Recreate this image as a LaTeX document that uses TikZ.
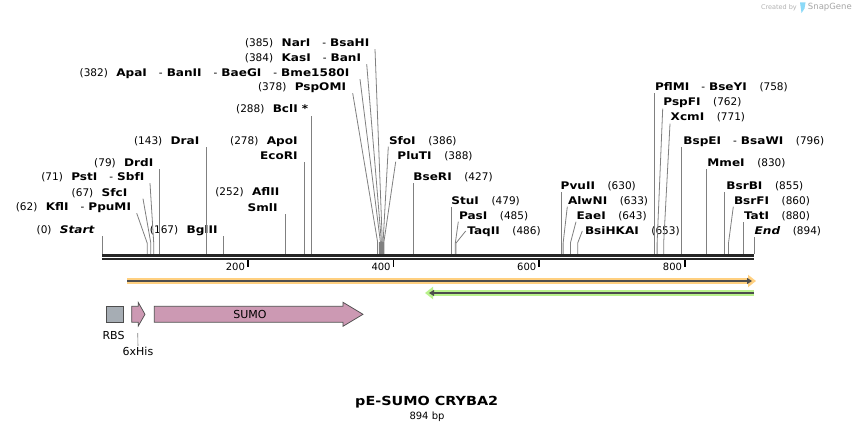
\documentclass[tikz,border=0pt]{standalone}
\usepackage{fontspec}
\setmainfont{DejaVu Sans}
\newfontfamily\enzfont{DejaVu Sans Bold}[FakeStretch=1.15]
\newfontfamily\enzitfont{DejaVu Sans Bold Oblique}[FakeStretch=1.15]
\usetikzlibrary{arrows.meta}
\definecolor{cutline}{RGB}{128,128,128}
\definecolor{orangehalo}{RGB}{255,208,128}
\definecolor{greenhalo}{RGB}{185,242,140}
\definecolor{featcore}{RGB}{77,77,77}
\definecolor{sumofill}{RGB}{204,153,179}
\definecolor{rbsfill}{RGB}{166,173,180}
\newcommand{\enz}[1]{{\enzfont #1}}
\newcommand{\enzsep}{\hspace{12pt}-\hspace{4pt}}

\begin{document}
\begin{tikzpicture}[x=1pt, y=-1pt,
    lab/.style={font=\fontsize{10.5}{12}\selectfont, inner sep=0.5pt, text height=8pt, text depth=2pt},
    leftlab/.style={lab, anchor=east},
    rightlab/.style={lab, anchor=west},
    cut/.style={draw=cutline, line width=0.8pt},
    ticklab/.style={font=\fontsize{10}{12}\selectfont, anchor=east, inner sep=2pt},
    feat/.style={draw=featcore, line width=0.7pt},
    featlab/.style={font=\fontsize{11}{13}\selectfont}]

  \fill[white] (0,0) rectangle (856,433);
  \useasboundingbox (0,0) rectangle (856,433);

  \newcommand\bpx{0.7285}
  \newcommand\gap{\hspace{0.8em}}
  \newcommand\rgap{\hspace{1.2em}}

  % sites on the sequence
  \coordinate (s0) at (102,254);  \coordinate (s62) at ({102+62*\bpx},254);
  \coordinate (s67) at ({102+67*\bpx},254);  \coordinate (s71) at ({102+71*\bpx},254);
  \coordinate (s79) at ({102+79*\bpx},254);  \coordinate (s143) at ({102+143*\bpx},254);
  \coordinate (s167) at ({102+167*\bpx},254);  \coordinate (s252) at ({102+252*\bpx},254);
  \coordinate (s278) at ({102+278*\bpx},254);  \coordinate (s288) at ({102+288*\bpx},254);
  \coordinate (s378) at (377.6,254);  \coordinate (s382) at (380.4,254);
  \coordinate (s384) at (381.4,254);  \coordinate (s385) at (382.3,254);
  \coordinate (s386) at (383.1,254);  \coordinate (s388) at (383.9,254);
  \coordinate (s427) at ({102+427*\bpx},254);  \coordinate (s479) at ({102+479*\bpx},254);
  \coordinate (s485) at ({102+485*\bpx},254);  \coordinate (s486) at ({102+486*\bpx},254);
  \coordinate (s630) at ({102+630*\bpx},254);  \coordinate (s633) at ({102+633*\bpx},254);
  \coordinate (s643) at ({102+643*\bpx},254);  \coordinate (s653) at ({102+653*\bpx},254);
  \coordinate (s758) at ({102+758*\bpx},254);  \coordinate (s762) at ({102+762*\bpx},254);
  \coordinate (s771) at ({102+771*\bpx},254);  \coordinate (s796) at ({102+796*\bpx},254);
  \coordinate (s830) at ({102+830*\bpx},254);  \coordinate (s855) at ({102+855*\bpx},254);
  \coordinate (s860) at ({102+860*\bpx},254);  \coordinate (s880) at ({102+880*\bpx},254);
  \coordinate (s894) at (754,254);

  % labels left of their cut
  \node[leftlab] (nar) at (370,43.5) {(385)\gap\enz{NarI}\enzsep\enz{BsaHI}};
  \node[leftlab] (kas) at (361.7,58.5) {(384)\gap\enz{KasI}\enzsep\enz{BanI}};
  \node[leftlab] (apa) at (350,73.5) {(382)\gap\enz{ApaI}\enzsep\enz{BanII}\enzsep\enz{BaeGI}\enzsep\enz{Bme1580I}};
  \node[leftlab] (psp) at (346.7,87.5) {(378)\gap\enz{PspOMI}};
  \node[leftlab] (bcl) at (309,110) {(288)\gap\enz{BclI *}};
  \node[leftlab] (dra) at (200,141) {(143)\gap\enz{DraI}};
  \node[leftlab] (apo) at (298.3,141) {(278)\gap\enz{ApoI}};
  \node[leftlab] (eco) at (298.3,156) {\enz{EcoRI}};
  \node[leftlab] (drd) at (154,163) {(79)\gap\enz{DrdI}};
  \node[leftlab] (pst) at (145,177.5) {(71)\gap\enz{PstI}\enzsep\enz{SbfI}};
  \node[leftlab] (afl) at (280,192.5) {(252)\gap\enz{AflII}};
  \node[leftlab] (sml) at (278.3,208) {\enz{SmlI}};
  \node[leftlab] (sfc) at (128,193) {(67)\gap\enz{SfcI}};
  \node[leftlab] (kfl) at (131.7,207.5) {(62)\gap\enz{KflI}\enzsep\enz{PpuMI}};
  \node[leftlab] (start) at (95,230.3) {(0)\gap{\enzitfont Start}};
  \node[leftlab] (bgl) at (218.3,230.3) {(167)\gap\enz{BglII}};

  % labels right of their cut
  \node[rightlab] (sfo) at (388.3,141) {\enz{SfoI}\rgap(386)};
  \node[rightlab] (plu) at (396.7,156) {\enz{PluTI}\rgap(388)};
  \node[rightlab] (bse) at (412.7,177.5) {\enz{BseRI}\rgap(427)};
  \node[rightlab] (stu) at (450.7,201) {\enz{StuI}\rgap(479)};
  \node[rightlab] (pas) at (458.3,216) {\enz{PasI}\rgap(485)};
  \node[rightlab] (taq) at (466.7,231) {\enz{TaqII}\rgap(486)};
  \node[rightlab] (pvu) at (560,186) {\enz{PvuII}\rgap(630)};
  \node[rightlab] (alw) at (567.3,201) {\enz{AlwNI}\rgap(633)};
  \node[rightlab] (eae) at (576,216) {\enz{EaeI}\rgap(643)};
  \node[rightlab] (bsi) at (584.3,231) {\enz{BsiHKAI}\rgap(653)};
  \node[rightlab] (pfl) at (654.3,87.5) {\enz{PflMI}\enzsep\enz{BseYI}\rgap(758)};
  \node[rightlab] (pspf) at (662.7,103) {\enz{PspFI}\rgap(762)};
  \node[rightlab] (xcm) at (670,118) {\enz{XcmI}\rgap(771)};
  \node[rightlab] (bspe) at (682.7,141) {\enz{BspEI}\enzsep\enz{BsaWI}\rgap(796)};
  \node[rightlab] (mme) at (706.7,163) {\enz{MmeI}\rgap(830)};
  \node[rightlab] (bsrb) at (725.7,186.5) {\enz{BsrBI}\rgap(855)};
  \node[rightlab] (bsrf) at (733.3,201) {\enz{BsrFI}\rgap(860)};
  \node[rightlab] (tat) at (743.3,216) {\enz{TatI}\rgap(880)};
  \node[rightlab] (fin) at (754,231) {{\enzitfont End}\rgap(894)};

  % straight cuts
  \draw[cut] (s0) -- (s0 |- start.south);
  \draw[cut] (s79) -- (s79 |- drd.south);
  \draw[cut] (s143) -- (s143 |- dra.south);
  \draw[cut] (s167) -- (s167 |- bgl.south);
  \draw[cut] (s252) -- (s252 |- sml.south);
  \draw[cut] (s278) -- (s278 |- eco.south);
  \draw[cut] (s288) -- (s288 |- bcl.south);
  \draw[cut] (s427) -- (s427 |- bse.south);
  \draw[cut] (s479) -- (s479 |- stu.south);
  \draw[cut] (s630) -- (s630 |- pvu.south);
  \draw[cut] (s758) -- (s758 |- pfl.south);
  \draw[cut] (s796) -- (s796 |- bspe.south);
  \draw[cut] (s830) -- (s830 |- mme.south);
  \draw[cut] (s855) -- (s855 |- bsrb.south);
  \draw[cut] (s880) -- (s880 |- tat.south);
  \draw[cut] (s894) -- (s894 |- fin.south);

  % bent cuts
  \draw[cut] ([xshift=5pt]kfl.south east) -- ([yshift=11pt]s62) -- (s62);
  \draw[cut] ([xshift=15pt]sfc.south east) -- ([yshift=11pt]s67) -- (s67);
  \draw[cut] ([xshift=5pt]pst.south east) -- ([yshift=11pt]s71) -- (s71);
  \draw[cut] ([xshift=6pt]psp.south east) -- ([yshift=12pt]s378) -- (s378);
  \draw[cut] ([xshift=10pt]apa.south east) -- ([yshift=12pt]s382) -- (s382);
  \draw[cut] ([xshift=5pt]kas.south east) -- ([yshift=12pt]s384) -- (s384);
  \draw[cut] ([xshift=5pt]nar.south east) -- ([yshift=12pt]s385) -- (s385);
  \draw[cut] (sfo.south west) -- ([yshift=12pt]s386) -- (s386);
  \draw[cut] ([xshift=-1pt]plu.south west) -- ([yshift=12pt]s388) -- (s388);
  \fill[cutline] (379.3,242) rectangle (384.2,254); % crowded cuts
  \draw[cut] (pas.south west) -- ([yshift=11pt]s485) -- (s485);
  \draw[cut] ([xshift=-1pt]taq.west) -- ([yshift=11pt]s486) -- (s486);
  \draw[cut] (alw.south west) -- ([yshift=11pt]s633) -- (s633);
  \draw[cut] (eae.south west) -- ([yshift=11pt]s643) -- (s643);
  \draw[cut] ([xshift=-2pt]bsi.west) -- ([yshift=11pt]s653) -- (s653);
  \draw[cut] (pspf.south west) -- ([yshift=11pt]s762) -- (s762);
  \draw[cut] (xcm.south west) -- ([yshift=11pt]s771) -- (s771);
  \draw[cut] (bsrf.south west) -- ([yshift=11pt]s860) -- (s860);

  % sequence
  \coordinate (seqa) at (102,255.5);
  \coordinate (seqb) at (754,255.5);
  \draw[line width=2.4pt, black!85] (seqa) -- (seqb);
  \draw[line width=2pt, black!85] ([yshift=-3.8pt]seqa) -- ([yshift=-3.8pt]seqb);

  % ruler
  \coordinate (t200) at ({102+200*\bpx},260);  \coordinate (t400) at ({102+400*\bpx},260);
  \coordinate (t600) at ({102+600*\bpx},260);  \coordinate (t800) at ({102+800*\bpx},260);
  \draw[line width=1.6pt] (t200) -- ++(0,7) node[ticklab] (l200) {200};
  \draw[line width=1.6pt] (t400) -- ++(0,7) node[ticklab] (l400) {400};
  \draw[line width=1.6pt] (t600) -- ++(0,7) node[ticklab] (l600) {600};
  \draw[line width=1.6pt] (t800) -- ++(0,7) node[ticklab] (l800) {800};

  % primers
  \coordinate (pa) at (127.3,281);  \coordinate (pb) at (756,281);
  \draw[orangehalo, line width=6.5pt, -{Triangle[length=8pt,width=12pt]}] (pa) -- (pb);
  \draw[featcore, line width=2pt, -{Triangle[length=5pt,width=6pt]}] (pa) -- ([xshift=-4pt]pb);
  \coordinate (qa) at (754,293);  \coordinate (qb) at (425,293);
  \draw[greenhalo, line width=6.5pt, -{Triangle[length=8pt,width=12pt]}] (qa) -- (qb);
  \draw[featcore, line width=2pt, -{Triangle[length=5pt,width=6pt]}] (qa) -- ([xshift=4pt]qb);

  % features
  \draw[feat, fill=rbsfill] (106,306.3) rectangle (123.3,322.2);
  \draw[feat, fill=sumofill] (131.7,306.3) -- (138.3,306.3) -- (138.3,302.5) -- (145,314.3)
    -- (138.3,326) -- (138.3,322.2) -- (131.7,322.2) -- cycle;
  \draw[feat, fill=sumofill] (154.3,306.3) -- (343,306.3) -- (343,302.3) -- (363,314.3)
    -- (343,326.3) -- (343,322.2) -- (154.3,322.2) -- cycle;
  \node[featlab] (sumo) at (250,314.3) {SUMO};
  \node[featlab] (rbs) at (113.5,335.5) {RBS};
  \node[featlab, inner sep=1pt] (his) at (138,351.5) {6xHis};
  \coordinate (hisfoot) at (137.7,333);
  \draw[cutline, line width=0.6pt] (hisfoot) -- (his.north);

  % title
  \node[font=\fontsize{12.5}{14}\selectfont\enzfont] (title) at (426.7,402) {pE-SUMO CRYBA2};
  \node[font=\fontsize{10}{12}\selectfont] (bplen) at (427,417) {894 bp};

  % credit
  \node[anchor=east, text=black!35, font=\fontsize{8.5}{10}\selectfont, inner sep=0pt] (snap) at (852,7.5) {SnapGene};
  \fill[cyan!45] (800,2.5) -- (805.5,2.5) -- (804.5,8.5) -- (801.5,13) -- cycle;
  \node[anchor=east, text=black!30, font=\fontsize{6.5}{8}\selectfont, inner sep=0pt] (created) at (797,7.5) {Created by};

\end{tikzpicture}
\end{document}
